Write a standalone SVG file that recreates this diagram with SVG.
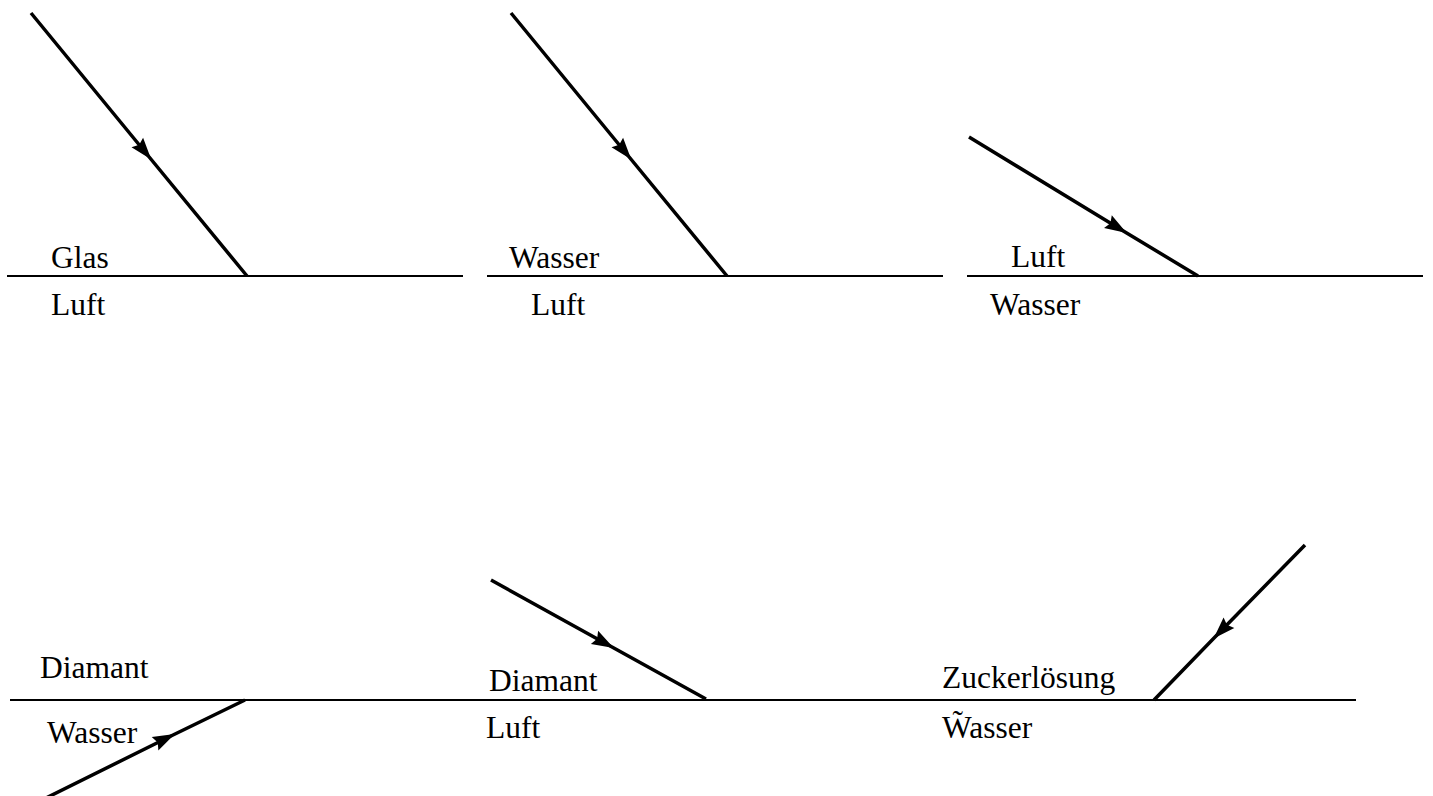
<svg xmlns="http://www.w3.org/2000/svg" width="1433" height="796" viewBox="0 0 1433 796">
<style>
.surface{stroke:#000;stroke-width:2;fill:none}
.ray{stroke:#000;stroke-width:3.5;fill:none;marker-mid:url(#arr)}
.lbl{font-family:"Liberation Serif","Times New Roman",serif;font-size:31.5px;fill:#000}
</style>
<defs>
<marker id="arr" markerUnits="userSpaceOnUse" markerWidth="26" markerHeight="18" viewBox="-24 -9 26 18" refX="0" refY="0" orient="auto">
<path d="M2,0 L-20,-7.5 L-17,0 L-20,7.5 Z" fill="#000"/>
</marker>
</defs>
<rect width="1433" height="796" fill="#fff"/>
<g id="panel1">
<line class="surface" x1="7" y1="276" x2="463" y2="276"/>
<text class="lbl" x="51" y="268">Glas</text>
<text class="lbl" x="51" y="315">Luft</text>
</g>
<g id="panel2">
<line class="surface" x1="487" y1="276" x2="943" y2="276"/>
<text class="lbl" x="509" y="268">Wasser</text>
<text class="lbl" x="531" y="315">Luft</text>
</g>
<g id="panel3">
<line class="surface" x1="967" y1="276" x2="1423" y2="276"/>
<text class="lbl" x="1011" y="267">Luft</text>
<text class="lbl" x="990" y="315">Wasser</text>
</g>
<g id="panel4">
<line class="surface" x1="10" y1="700" x2="467" y2="700"/>
<text class="lbl" x="40" y="678">Diamant</text>
<text class="lbl" x="47" y="743">Wasser</text>
</g>
<g id="panel5">
<line class="surface" x1="467" y1="700" x2="900" y2="700"/>
<text class="lbl" x="489" y="691">Diamant</text>
<text class="lbl" x="486" y="738">Luft</text>
</g>
<g id="panel6">
<line class="surface" x1="900" y1="700" x2="1356" y2="700"/>
<text class="lbl" x="942" y="688">Zuckerlösung</text>
<text class="lbl" x="942" y="738">W̃asser</text>
</g>
<g id="connectors">
<polyline class="ray" points="31,13 150,158 247,276"/>
<polyline class="ray" points="511,13 630,158 727,276"/>
<polyline class="ray" points="969,137 1125,232 1198,276"/>
<polyline class="ray" points="44,799 173,735 245,700"/>
<polyline class="ray" points="491,580 612,647 706,699"/>
<polyline class="ray" points="1305,545 1215,637 1154,700"/>
</g>
</svg>
